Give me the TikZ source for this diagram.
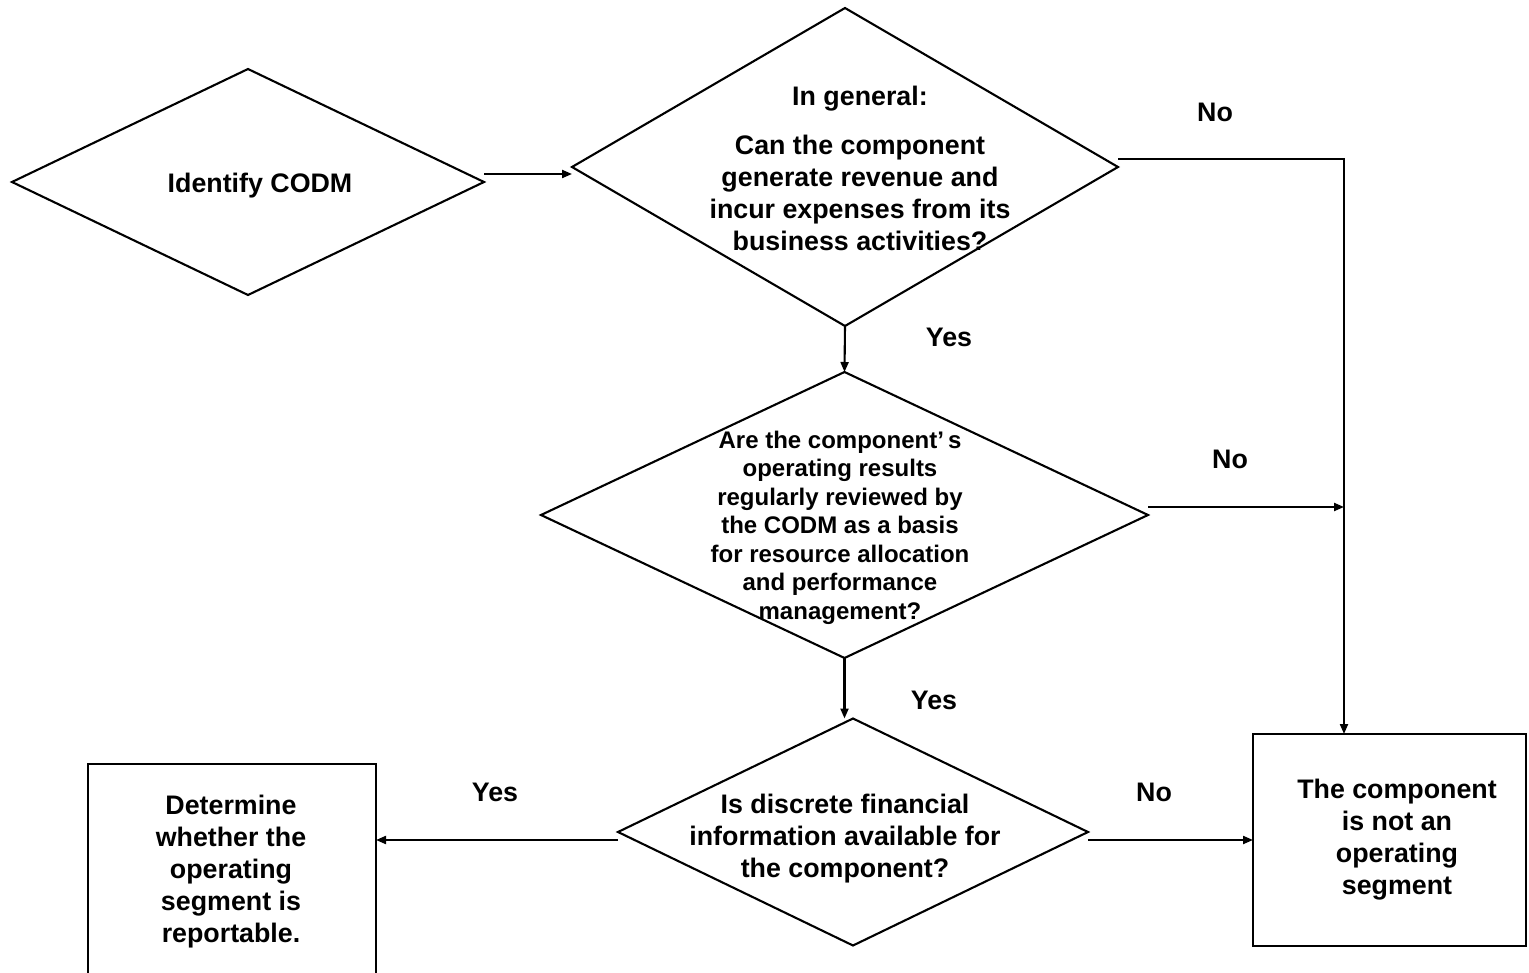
\documentclass[tikz,border=0pt]{standalone}
\usepackage{fontspec}
\setmainfont{Liberation Sans}
\usetikzlibrary{shapes.geometric,arrows.meta}
\begin{document}
\begin{tikzpicture}[x=1pt,y=-1pt,line width=2.1pt,
  dia/.style={diamond,draw,inner sep=0pt,outer sep=0pt},
  boxnode/.style={rectangle,draw,inner sep=0pt,outer sep=0pt,anchor=north west},
  txt/.style={font=\bfseries\fontsize{26.8}{32}\selectfont,align=center,inner sep=0pt},
  smalltxt/.style={font=\bfseries\fontsize{24}{28.5}\selectfont,align=center,inner sep=0pt},
  lbl/.style={font=\bfseries\fontsize{26.8}{32}\selectfont,inner sep=0pt},
  arr/.style={-{Triangle[length=10pt,width=8pt]},line width=2.1pt}]
\path[use as bounding box] (0,0) rectangle (1529,973);
\clip (0,0) rectangle (1529,973);

% shapes
\node[dia,minimum width=472pt,minimum height=226pt] (d1) at (248,182) {};
\node[dia,minimum width=546pt,minimum height=318pt] (d2) at (845,167) {};
\node[dia,minimum width=607pt,minimum height=286pt] (d3) at (844.5,515) {};
\node[dia,minimum width=470pt,minimum height=227pt] (d4) at (853,832) {};
\node[boxnode,minimum width=288pt,minimum height=225pt] (lb) at (88,764) {};
\node[boxnode,minimum width=273pt,minimum height=212pt] (rb) at (1253,734) {};

% texts
\node[txt] (t1) at (260,186) {Identify CODM};
\node[txt] (t2) at (860,168) {In general:\\[17pt]Can the component\\generate revenue and\\incur expenses from its\\business activities?};
\node[smalltxt] (t3) at (840,527.5) {Are the component’\,s\\operating results\\regularly reviewed by\\the CODM as a basis\\for resource allocation\\and performance\\management?};
\node[txt] (t4) at (845,838.5) {Is discrete financial\\information available for\\the component?};
\node[txt] (t5) at (231,872) {Determine\\whether the\\operating\\segment is\\reportable.};
\node[txt] (t6) at (1397,840) {The component\\is not an\\operating\\segment};

% labels
\node[lbl] (l1) at (1215,112) {No};
\node[lbl] (l2) at (949,337) {Yes};
\node[lbl] (l3) at (1230,459) {No};
\node[lbl] (l4) at (934,700) {Yes};
\node[lbl] (l5) at (495,792) {Yes};
\node[lbl] (l6) at (1154,792) {No};

% connectors
\coordinate (jx) at (1344,159);
\draw[arr] ([yshift=8pt]d1.east) -- ([yshift=8pt]d1.east -| d2.west);
\draw[arr] ([yshift=8pt]d2.east) -- (jx) -- (jx |- rb.north);
\draw[arr] ([yshift=8pt]d3.east) -- ([yshift=8pt]d3.east -| jx);
\draw[arr] (d2.south) -- (d3.north);
\draw[arr] (d3.south) -- (d3.south |- d4.north);
\draw[arr] ([yshift=-8pt]d4.east) -- ([yshift=-8pt]d4.east -| rb.west);
\draw[arr] ([yshift=-8pt]d4.west) -- ([yshift=-8pt]d4.west -| lb.east);
\end{tikzpicture}
\end{document}
